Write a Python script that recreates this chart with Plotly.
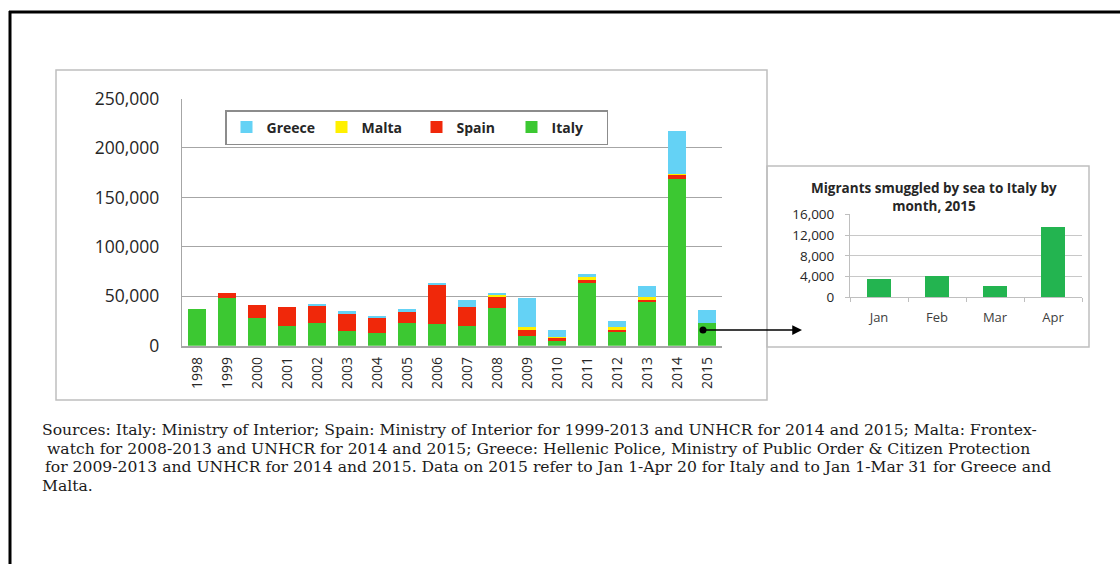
import plotly.graph_objects as go

W, H = 1120, 564

years = ["1998", "1999", "2000", "2001", "2002", "2003", "2004", "2005", "2006",
         "2007", "2008", "2009", "2010", "2011", "2012", "2013", "2014", "2015"]
italy = [37000, 48000, 27700, 20000, 23200, 14800, 12500, 23200, 21600,
         19900, 37800, 10100, 5000, 63000, 13500, 44500, 168400, 23200]
spain = [0, 5500, 13700, 18900, 16900, 18500, 16200, 11100, 39700,
         18900, 11700, 7100, 3400, 4400, 3700, 2300, 5000, 0]
malta = [0, 0, 0, 0, 0, 0, 0, 0, 0,
         0, 2800, 1500, 50, 1600, 1900, 2000, 570, 0]
greece = [0, 0, 0, 0, 2300, 1700, 1600, 2400, 2300,
          7400, 1200, 29200, 7400, 3400, 5800, 11500, 42800, 12800]

months = ["Jan", "Feb", "Mar", "Apr"]
italy_2015_monthly = [3470, 4160, 2240, 13610]

main_ticks = [0, 50000, 100000, 150000, 200000, 250000]
inset_ticks = [0, 4000, 8000, 12000, 16000]

title_inset = "Migrants smuggled by sea to Italy by<br>month, 2015"
source_lines = [
    "Sources: Italy: Ministry of Interior; Spain: Ministry of Interior for 1999-2013 and UNHCR for 2014 and 2015; Malta: Frontex-",
    "watch for 2008-2013 and UNHCR for 2014 and 2015; Greece: Hellenic Police, Ministry of Public Order &amp; Citizen Protection",
    "for 2009-2013 and UNHCR for 2014 and 2015. Data on 2015 refer to Jan 1-Apr 20 for Italy and to Jan 1-Mar 31 for Greece and",
    "Malta.",
]

C_GREECE = "#64D2F5"
C_MALTA = "#FFF000"
C_SPAIN = "#F0280A"
C_ITALY = "#3CC832"
C_INSET = "#23B450"


def px(x):
    return x / W


def py(y):
    return 1 - y / H


fig = go.Figure()
for name, vals, col in [("Italy", italy, C_ITALY), ("Spain", spain, C_SPAIN),
                        ("Malta", malta, C_MALTA), ("Greece", greece, C_GREECE)]:
    fig.add_trace(go.Bar(x=years, y=vals, name=name, marker=dict(color=col, line=dict(width=0)),
                         xaxis="x", yaxis="y", hoverinfo="x+y+name"))

fig.add_trace(go.Bar(x=months, y=italy_2015_monthly, name="Italy 2015", showlegend=False,
                     marker=dict(color=C_INSET, line=dict(width=0)), xaxis="x2", yaxis="y2",
                     width=0.4))

fig.update_layout(
    width=W, height=H, autosize=False,
    margin=dict(l=0, r=0, t=0, b=0, autoexpand=False),
    paper_bgcolor="white", plot_bgcolor="rgba(0,0,0,0)",
    barmode="stack", bargap=0.37,
    font=dict(family="Open Sans", color="#262626"),
    legend=dict(orientation="h", traceorder="reversed",
                x=px(225), y=py(110), xanchor="left", yanchor="top",
                bordercolor="#8C8C8C", borderwidth=1.5, bgcolor="white",
                font=dict(family="Open Sans", size=14, color="#262626", weight="bold"),
                entrywidth=50, entrywidthmode="pixels", itemwidth=30),
    xaxis=dict(domain=[px(182), px(722)], type="category", range=[-0.5, 17.5],
               tickangle=-90, tickfont=dict(size=14, color="#262626"),
               showline=True, linecolor="#A6A6A6", linewidth=1.5,
               ticks="outside", ticklen=4, tickcolor="rgba(0,0,0,0)",
               showgrid=False, anchor="y", fixedrange=True),
    yaxis=dict(domain=[py(345.7), py(98.5)], range=[0, 250000],
               tickvals=main_ticks, tickformat=",", tickfont=dict(size=17.5, color="#262626"),
               showgrid=True, gridcolor="#A6A6A6", gridwidth=1.3,
               showline=True, linecolor="#A6A6A6", linewidth=1.3,
               ticks="outside", ticklen=18, tickcolor="rgba(0,0,0,0)",
               zeroline=False, anchor="x", fixedrange=True),
    xaxis2=dict(domain=[px(850), px(1082)], type="category", range=[-0.5, 3.5],
                tickfont=dict(size=13, color="#404040"),
                showline=True, linecolor="#BFBFBF", linewidth=1,
                ticks="outside", ticklen=4, tickcolor="#BFBFBF", tickson="boundaries",
                showgrid=False, anchor="y2", fixedrange=True, ticklabelstandoff=8),
    yaxis2=dict(domain=[py(297.3), py(214.3)], range=[0, 16000],
                tickvals=inset_ticks, tickformat=",", tickfont=dict(size=13.5, color="#262626"),
                showgrid=True, gridcolor="#C8C8C8", gridwidth=1,
                showline=True, linecolor="#BFBFBF", linewidth=1,
                ticks="outside", ticklen=4, tickcolor="#BFBFBF",
                zeroline=False, anchor="x2", fixedrange=True, ticklabelstandoff=8),
)

shapes = [
    # outer black frame (top and left)
    dict(type="line", xref="paper", yref="paper", x0=px(9), x1=px(1125), y0=py(12), y1=py(12),
         line=dict(color="black", width=3)),
    dict(type="line", xref="paper", yref="paper", x0=px(10), x1=px(10), y0=py(11), y1=py(570),
         line=dict(color="black", width=3)),
    # main chart panel
    dict(type="rect", xref="paper", yref="paper", x0=px(56), x1=px(767), y0=py(400), y1=py(70),
         line=dict(color="#BFBFBF", width=1.5), layer="below"),
    # inset panel
    dict(type="rect", xref="paper", yref="paper", x0=px(767), x1=px(1089), y0=py(347), y1=py(166),
         line=dict(color="#BFBFBF", width=1.5), layer="below"),
    # arrow tail dot
    dict(type="circle", xref="paper", yref="paper", x0=px(699.5), x1=px(706.5), y0=py(333.5), y1=py(326.5),
         fillcolor="black", line=dict(color="black", width=0)),
]
fig.update_layout(shapes=shapes)

fig.add_annotation(xref="paper", yref="paper", x=px(802), y=py(330), text="",
                   showarrow=True, arrowhead=2, arrowsize=1.3, arrowwidth=1.5, arrowcolor="black",
                   ax=-99, ay=0)
fig.add_annotation(xref="paper", yref="paper", x=px(934), y=py(197), text=title_inset,
                   showarrow=False, xanchor="center", yanchor="middle",
                   font=dict(family="Open Sans", size=13.5, color="#262626", weight="bold"))

line_y = [430, 448.5, 467, 485.5]
line_x = [40, 45, 43, 40]
for txt, yy, xx in zip(source_lines, line_y, line_x):
    fig.add_annotation(xref="paper", yref="paper", x=px(xx), y=py(yy), text=txt,
                       showarrow=False, xanchor="left", yanchor="middle", align="left",
                       font=dict(family="DejaVu Serif", size=15.6, color="#1A1A1A"))

fig.write_html("out.html")
